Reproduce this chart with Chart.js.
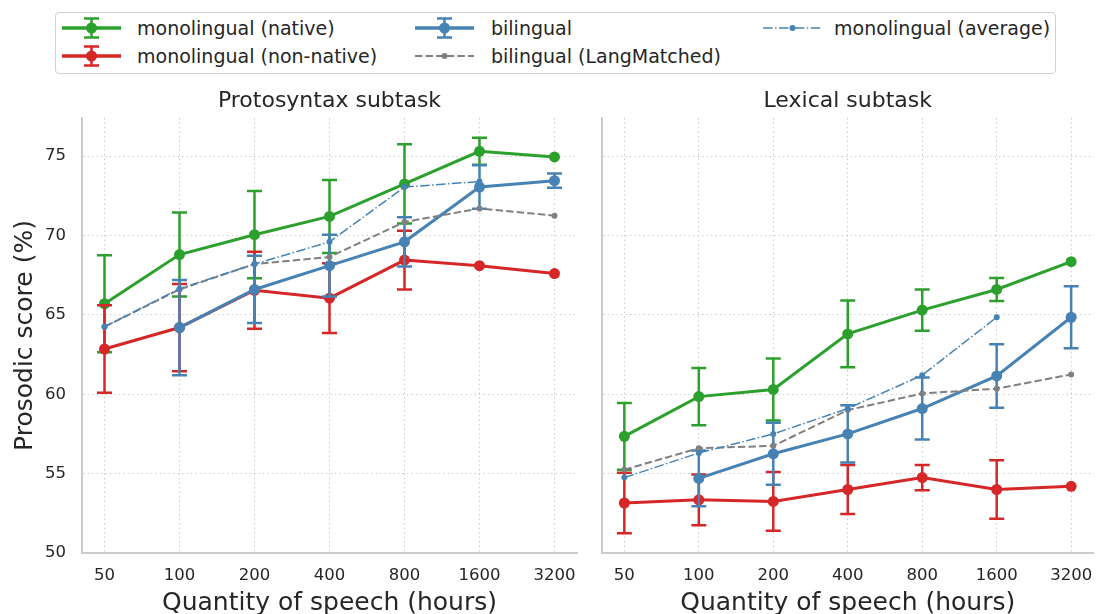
<!DOCTYPE html>
<html>
<head>
<meta charset="utf-8">
<script src="https://cdn.jsdelivr.net/npm/chart.js@4.4.1/dist/chart.umd.min.js"></script>
<style>
html,body{margin:0;padding:0;width:1099px;height:614px;overflow:hidden;background:#fff;font-family:"DejaVu Sans",sans-serif;}
.wrap{position:absolute;}
#legend{position:absolute;left:55px;top:12px;width:999px;height:60px;border:1px solid #d0d0d0;border-radius:4px;box-sizing:content-box;}
.lg-mark{position:absolute;}
.lg-text{position:absolute;font-size:19px;line-height:22px;color:#262626;white-space:nowrap;}
</style>
</head>
<body>
<div id="legend"></div>
<div class="wrap" style="left:0;top:80px;width:590px;height:534px"><canvas id="c1" width="590" height="534"></canvas></div>
<div class="wrap" style="left:590px;top:80px;width:509px;height:534px"><canvas id="c2" width="509" height="534"></canvas></div>
<script>
// ---------- data ----------
const hours = ['50', '100', '200', '400', '800', '1600', '3200'];
const yTicks = [50, 55, 60, 65, 70, 75];
const seriesNames = ['monolingual (native)', 'monolingual (non-native)', 'bilingual', 'bilingual (LangMatched)', 'monolingual (average)'];
const panelTitles = ['Protosyntax subtask', 'Lexical subtask'];
const xTitle = 'Quantity of speech (hours)';
const yTitle = 'Prosodic score (%)';

// Protosyntax subtask
const protoNative       = [65.7, 68.8, 70.05, 71.2, 73.25, 75.3, 74.95];
const protoNativeErr    = [3.05, 2.65, 2.75, 2.3, 2.5, 0.85, null];
const protoNonNative    = [62.85, 64.2, 66.55, 66.05, 68.45, 68.1, 67.6];
const protoNonNativeErr = [2.75, 2.75, 2.42, 2.2, 1.85, null, null];
const protoBilingual    = [null, 64.2, 66.6, 68.1, 69.6, 73.05, 73.45];
const protoBilingualErr = [null, 3.0, 2.12, 1.95, 1.55, 1.37, 0.45];
const protoLangMatched  = [64.25, 66.6, 68.2, 68.65, 70.85, 71.7, 71.25];
const protoAverage      = [64.25, 66.65, 68.2, 69.6, 73.05, 73.4, null];

// Lexical subtask
const lexNative       = [57.35, 59.85, 60.3, 63.8, 65.3, 66.6, 68.35];
const lexNativeErr    = [2.1, 1.8, 1.95, 2.1, 1.3, 0.72, null];
const lexNonNative    = [53.15, 53.35, 53.25, 54.0, 54.75, 54.0, 54.2];
const lexNonNativeErr = [1.9, 1.6, 1.85, 1.55, 0.8, 1.85, null];
const lexBilingual    = [null, 54.7, 56.25, 57.5, 59.1, 61.15, 64.85];
const lexBilingualErr = [null, 1.75, 1.95, 1.8, 1.95, 2.0, 1.95];
const lexLangMatched  = [55.25, 56.6, 56.75, 59.0, 60.05, 60.35, 61.25];
const lexAverage      = [54.75, 56.3, 57.5, 59.1, 61.2, 64.85, null];

// ---------- styles ----------
const FONT = "'DejaVu Sans', sans-serif";
const TXT = '#262626';
const GRID = '#cccccc';
const styles = [
  {color: '#2ca02c', width: 3, dash: [], radius: 5.5, err: true},
  {color: '#d62728', width: 3, dash: [], radius: 5.5, err: true},
  {color: '#4682b4', width: 3, dash: [], radius: 5.5, err: true},
  {color: '#808080', width: 2, dash: [7.4, 3.2], radius: 3, err: false},
  {color: '#4682b4', width: 1.5, dash: [9.6, 2.4, 1.5, 2.4], radius: 3, err: false}
];

Chart.defaults.font.family = FONT;
Chart.defaults.color = TXT;

const errorBars = {
  id: 'errorBars',
  beforeDatasetDraw(chart, args) {
    const ds = chart.data.datasets[args.index];
    if (!ds.errs) return;
    const ctx = chart.ctx, xs = chart.scales.x, ys = chart.scales.y;
    ctx.save();
    ctx.strokeStyle = ds.borderColor;
    ctx.lineWidth = 2.5;
    ctx.setLineDash([]);
    ds.data.forEach((p, i) => {
      const e = ds.errs[i];
      if (p.y == null || e == null) return;
      const px = xs.getPixelForValue(p.x);
      const t = ys.getPixelForValue(p.y + e), b = ys.getPixelForValue(p.y - e);
      ctx.beginPath();
      ctx.moveTo(px, t); ctx.lineTo(px, b);
      ctx.moveTo(px - 7.5, t); ctx.lineTo(px + 7.5, t);
      ctx.moveTo(px - 7.5, b); ctx.lineTo(px + 7.5, b);
      ctx.stroke();
    });
    ctx.restore();
  }
};

function makeDatasets(vals, errs) {
  return vals.map((arr, k) => {
    const s = styles[k];
    return {
      label: seriesNames[k],
      data: arr.map((v, i) => ({x: i, y: v})),
      errs: s.err ? errs[k] : null,
      borderColor: s.color,
      backgroundColor: s.color,
      borderWidth: s.width,
      borderDash: s.dash,
      pointRadius: s.radius,
      pointBorderWidth: 0,
      pointBackgroundColor: s.color,
      pointHoverRadius: s.radius,
      tension: 0,
      fill: false,
      order: -k
    };
  });
}

function makeChart(id, title, vals, errs, showY, padRight) {
  new Chart(document.getElementById(id), {
    type: 'line',
    data: {datasets: makeDatasets(vals, errs)},
    plugins: [errorBars],
    options: {
      responsive: false,
      animation: false,
      layout: {padding: {left: 0, right: padRight, top: 0, bottom: 0}},
      plugins: {
        legend: {display: false},
        tooltip: {enabled: false},
        title: {
          display: true, text: title, fullSize: false, color: TXT,
          font: {family: FONT, size: 22, weight: 'normal', lineHeight: 1.2},
          padding: {top: 7.8, bottom: 3.8}
        }
      },
      scales: {
        x: {
          type: 'linear', min: -0.3, max: 6.3,
          afterBuildTicks: s => { s.ticks = hours.map((h, i) => ({value: i})); },
          ticks: {callback: v => hours[v], font: {size: 16.5}, color: TXT, padding: 13, autoSkip: false, maxRotation: 0},
          grid: {color: GRID, lineWidth: 1, drawTicks: false},
          border: {display: true, color: GRID, width: 2, dash: [1.5, 3]},
          title: {display: true, text: xTitle, color: TXT, font: {size: 25, lineHeight: 1}, padding: {top: 0, bottom: -2}},
          afterFit: s => { s.height = 61; s.paddingLeft = 0; s.paddingRight = 0; }
        },
        y: {
          type: 'linear', min: 50, max: 77.4,
          afterBuildTicks: s => { s.ticks = yTicks.map(v => ({value: v})); },
          ticks: {display: showY, font: {size: 16.5}, color: TXT, padding: 16},
          grid: {color: GRID, lineWidth: 1, drawTicks: false},
          border: {display: true, color: GRID, width: 2, dash: [1.5, 3]},
          title: {display: showY, text: yTitle, color: TXT, font: {size: 25, lineHeight: 1}, padding: {top: 13, bottom: 0}},
          afterFit: s => { s.width = showY ? 82 : 12; s.paddingTop = 0; s.paddingBottom = 0; }
        }
      }
    }
  });
}

makeChart('c1', panelTitles[0],
  [protoNative, protoNonNative, protoBilingual, protoLangMatched, protoAverage],
  [protoNativeErr, protoNonNativeErr, protoBilingualErr, null, null], true, 13);
makeChart('c2', panelTitles[1],
  [lexNative, lexNonNative, lexBilingual, lexLangMatched, lexAverage],
  [lexNativeErr, lexNonNativeErr, lexBilingualErr, null, null], false, 1);

// ---------- legend (HTML, built from the series names/styles) ----------
const legendPos = [
  {mx: 62, tx: 137, y: 27.5}, {mx: 62, tx: 137, y: 55.5},
  {mx: 415, tx: 491, y: 27.5}, {mx: 415, tx: 491, y: 55.5},
  {mx: 763, tx: 834, y: 27.5}
];
const lg = document.getElementById('legend');
const ox = 56, oy = 13; // legend inner origin in page coords
seriesNames.forEach((name, k) => {
  const s = styles[k], p = legendPos[k];
  const w = 59, h = 24, cy = 12, cx = w / 2;
  const lw = s.err ? 3.5 : s.width;
  let svg = `<svg class="lg-mark" width="${w}" height="${h}" style="left:${p.mx - ox}px;top:${p.y - oy - cy}px">`;
  svg += `<line x1="0" y1="${cy}" x2="${w}" y2="${cy}" stroke="${s.color}" stroke-width="${lw}" stroke-dasharray="${s.dash.join(' ') || 'none'}"/>`;
  if (s.err) {
    svg += `<path d="M${cx} ${cy - 9.5}V${cy + 9.5}M${cx - 7.5} ${cy - 9.5}H${cx + 7.5}M${cx - 7.5} ${cy + 9.5}H${cx + 7.5}" stroke="${s.color}" stroke-width="2.5" fill="none"/>`;
  }
  svg += `<circle cx="${cx}" cy="${cy}" r="${s.radius}" fill="${s.color}"/></svg>`;
  lg.insertAdjacentHTML('beforeend', svg);
  const t = document.createElement('span');
  t.className = 'lg-text';
  t.textContent = name;
  t.style.left = (p.tx - ox) + 'px';
  t.style.top = (p.y - oy - 11) + 'px';
  lg.appendChild(t);
});
</script>
</body>
</html>
